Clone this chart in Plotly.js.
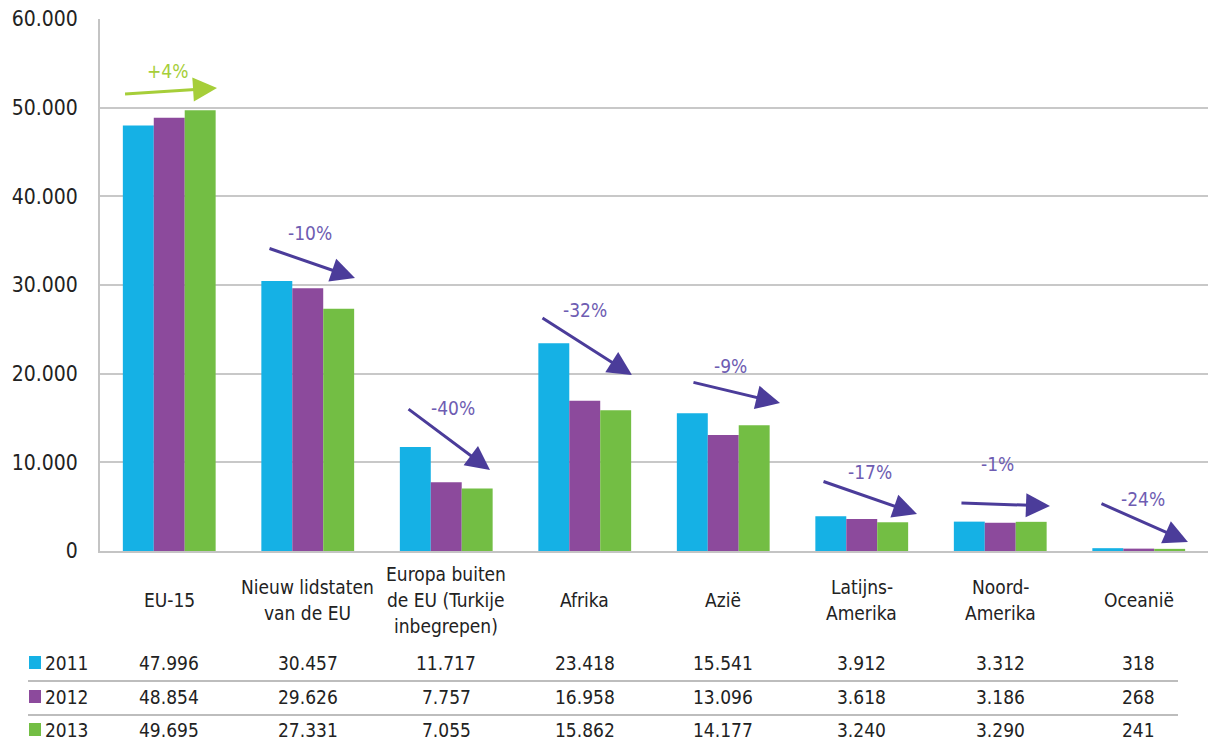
<!DOCTYPE html>
<html>
<head>
<meta charset="utf-8">
<script src="https://cdn.plot.ly/plotly-3.0.1.min.js"></script>
<style>html,body{margin:0;padding:0;background:#fff}#chart{width:1208px;height:742px}</style>
</head>
<body>
<div id="chart"></div>
<script>
// ---- data ----
const categories = ["EU-15", "Nieuw lidstaten<br>van de EU", "Europa buiten<br>de EU (Turkije<br>inbegrepen)", "Afrika", "Azië", "Latijns-<br>Amerika", "Noord-<br>Amerika", "Oceanië"];
const years = ["2011", "2012", "2013"];
const values2011 = [47996, 30457, 11717, 23418, 15541, 3912, 3312, 318];
const values2012 = [48854, 29626, 7757, 16958, 13096, 3618, 3186, 268];
const values2013 = [49695, 27331, 7055, 15862, 14177, 3240, 3290, 241];
const changes = ["+4%", "-10%", "-40%", "-32%", "-9%", "-17%", "-1%", "-24%"];
const yTicks = [0, 10000, 20000, 30000, 40000, 50000, 60000];

// ---- styling / annotation geometry ----
const colors = ["#15B1E5", "#8C4A9C", "#73BE44"];
const arrowColorUp = "#A6CE39";
const arrowColorDown = "#4B3C9A";
const labelColorDown = "#6E5CB2";
// arrow geometry in axis units: [tailX, tailY, tipX, tipY, labelX, labelY]
const arrowGeom = [
  [-0.33, 51540, 0.345, 52218, -0.01, 54135],
  [0.713, 34173, 1.341, 30789, 1.016, 35865],
  [1.717, 16128, 2.316, 9135, 2.049, 16128],
  [2.684, 26391, 3.341, 19850, 3.002, 27180],
  [3.774, 19060, 4.41, 16692, 4.049, 20865],
  [4.713, 7895, 5.399, 4173, 5.06, 8910],
  [5.709, 5414, 6.359, 5075, 5.977, 9812],
  [6.72, 5414, 7.355, 1015, 7.03, 5865]
];

const FONT = "'Liberation Sans Narrow', 'DejaVu Sans Condensed', Roboto, 'Liberation Sans', sans-serif";
const W = 1208, H = 742, ML = 100, MR = 0, MT = 19, MB = 191;
const plotW = W - ML - MR, plotH = H - MT - MB;
const py = px => (H - MB - px) / plotH;   // pixel y -> paper y
const pxx = px => (px - ML) / plotW;     // pixel x -> paper x

function fmt(n) {
  return String(n).replace(/\B(?=(\d{3})+(?!\d))/g, ".");
}

const idx = categories.map((c, i) => i);
const series = [values2011, values2012, values2013];
const traces = series.map((vals, k) => ({
  type: "bar",
  name: years[k],
  x: idx,
  y: vals,
  marker: {color: colors[k], line: {width: 0}},
  hoverinfo: "skip"
}));

const annotations = [];
const shapes = [];

// category labels (multi-line, vertically centred)
categories.forEach((c, i) => {
  const lines = c.split("<br>");
  const lh = 26;
  lines.forEach((ln, j) => {
    const cy = 600 + (j - (lines.length - 1) / 2) * lh;
    annotations.push({
      xref: "x", yref: "paper", x: i, y: py(cy), text: ln, showarrow: false,
      xanchor: "center", yanchor: "middle", font: {family: FONT, size: 19, color: "#222"}
    });
  });
});

// data table
const rowY = [663, 697, 730];
series.forEach((vals, k) => {
  vals.forEach((v, i) => {
    annotations.push({
      xref: "x", yref: "paper", x: i, y: py(rowY[k]), text: fmt(v), showarrow: false,
      xanchor: "center", yanchor: "middle", borderpad: 0,
      font: {family: FONT, size: 19, color: "#222"}
    });
  });
  annotations.push({
    xref: "paper", yref: "paper", x: pxx(44), y: py(rowY[k]), text: years[k], showarrow: false,
    xanchor: "left", yanchor: "middle", borderpad: 0,
    font: {family: FONT, size: 19, color: "#222"}
  });
  shapes.push({
    type: "rect", xref: "paper", yref: "paper",
    x0: pxx(29), x1: pxx(41), y0: py(rowY[k] + 6), y1: py(rowY[k] - 7),
    fillcolor: colors[k], line: {width: 0}
  });
});
[681, 715].forEach(ly => {
  shapes.push({
    type: "line", xref: "paper", yref: "paper",
    x0: pxx(28), x1: pxx(1178), y0: py(ly), y1: py(ly),
    line: {color: "#BDBDBD", width: 2}
  });
});

// arrows and change labels
arrowGeom.forEach((g, i) => {
  const up = changes[i].startsWith("+");
  const col = up ? arrowColorUp : arrowColorDown;
  annotations.push({
    xref: "x", yref: "y", axref: "x", ayref: "y",
    x: g[2], y: g[3], ax: g[0], ay: g[1], text: "",
    showarrow: true, arrowhead: 2, arrowsize: 1.6, arrowwidth: 3, arrowcolor: col, standoff: 0
  });
  annotations.push({
    xref: "x", yref: "y", x: g[4], y: g[5], text: changes[i], showarrow: false,
    xanchor: "center", yanchor: "middle",
    font: {family: FONT, size: 19, color: up ? arrowColorUp : labelColorDown}
  });
});

const layout = {
  width: W, height: H,
  margin: {l: ML, r: MR, t: MT, b: MB, pad: 0},
  paper_bgcolor: "#fff", plot_bgcolor: "#fff",
  separators: ",.",
  barmode: "group", bargap: 0.33, bargroupgap: 0,
  showlegend: false,
  xaxis: {
    type: "linear", range: [-0.5, categories.length - 0.5],
    showticklabels: false, ticks: "", showgrid: false, zeroline: false,
    showline: true, linecolor: "#C4C4C4", linewidth: 2, fixedrange: true
  },
  yaxis: {
    range: [0, 60000], tickvals: yTicks, tickformat: ",d",
    showgrid: true, gridcolor: "#C8C8C8", gridwidth: 2,
    zeroline: false, showline: true, linecolor: "#C4C4C4", linewidth: 2,
    ticks: "", ticklabelstandoff: 16,
    tickfont: {family: FONT, size: 21, color: "#222"}, fixedrange: true
  },
  annotations: annotations,
  shapes: shapes
};

Plotly.newPlot("chart", traces, layout, {displayModeBar: false, staticPlot: true});
</script>
</body>
</html>
